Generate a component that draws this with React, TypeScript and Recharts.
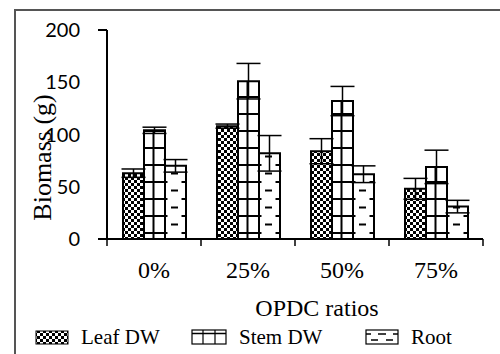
import { BarChart, Bar, XAxis, YAxis, ErrorBar, Legend } from 'recharts';

const ratios = ['0%', '25%', '50%', '75%'];
const seriesNames = ['Leaf DW', 'Stem DW', 'Root'];
const leafDW = [63, 108, 84, 48];
const leafErr = [4, 2, 12, 10];
const stemDW = [104, 151, 132, 69];
const stemErr = [3, 17, 14, 16];
const rootDW = [70, 82, 62, 31];
const rootErr = [6, 17, 8, 6];
const yTicks = [0, 50, 100, 150, 200];

const data = ratios.map((r, i) => ({
  ratio: r,
  leaf: leafDW[i],
  leafErr: leafErr[i],
  stem: stemDW[i],
  stemErr: stemErr[i],
  root: rootDW[i],
  rootErr: rootErr[i],
}));

const serif = '"Liberation Serif", "Times New Roman", serif';

// y tick: number label, plus short outward tick only at 0 and 200
const YTick = (props: any) => {
  const { x, y, payload, index, visibleTicksCount } = props;
  const edge = index === 0 || index === visibleTicksCount - 1;
  return (
    <g>
      {edge && <line x1={x - 9} x2={x} y1={y} y2={y} stroke="#000" strokeWidth={2} />}
      <text x={x - 27} y={y} dy="0.36em" textAnchor="end" fontFamily="Lato, sans-serif" fontSize={20} fill="#000">
        {payload.value}
      </text>
    </g>
  );
};

// x tick: label at category centre, tick marks at the category boundaries
const XTick = (props: any) => {
  const { x, y, payload, index, visibleTicksCount } = props;
  const half = payload.offset;
  const last = index === visibleTicksCount - 1;
  return (
    <g>
      <line x1={x - half} x2={x - half} y1={y} y2={y + 7} stroke="#000" strokeWidth={1.5} />
      {last && <line x1={x + half} x2={x + half} y1={y} y2={y + 7} stroke="#000" strokeWidth={1.5} />}
      <text x={x} y={y + 39} textAnchor="middle" fontFamily={serif} fontSize={24} fill="#000">
        {payload.value}
      </text>
    </g>
  );
};

const YLabel = ({ viewBox }: any) => {
  const cx = viewBox.x + 51;
  const cy = viewBox.y + viewBox.height / 2 + 23;
  return (
    <text x={cx} y={cy} transform={`rotate(-90 ${cx} ${cy})`} textAnchor="middle" fontFamily={serif} fontSize={26} fill="#000">
      Biomass (g)
    </text>
  );
};

const XLabel = ({ viewBox }: any) => {
  const cx = viewBox.x + viewBox.width / 2 + 22;
  const cy = viewBox.y + 77;
  return (
    <text x={cx} y={cy} textAnchor="middle" fontFamily={serif} fontSize={24} fill="#000">
      OPDC ratios
    </text>
  );
};

const swatch = (i: number) => {
  if (i === 0) {
    return (
      <svg width={34} height={15}>
        <rect x={1} y={1} width={32} height={13} fill="url(#pLeaf)" stroke="#000" strokeWidth={1} />
      </svg>
    );
  }
  if (i === 1) {
    return (
      <svg width={36} height={16}>
        <rect x={1} y={1} width={34} height={14} fill="#fff" stroke="#000" strokeWidth={1.2} />
        <line x1={1} x2={35} y1={4.5} y2={4.5} stroke="#000" strokeWidth={1.5} />
        <line x1={12} x2={12} y1={1} y2={15} stroke="#000" strokeWidth={1.2} />
        <line x1={24} x2={24} y1={1} y2={15} stroke="#000" strokeWidth={1.2} />
      </svg>
    );
  }
  return (
    <svg width={34} height={16}>
      <rect x={1} y={1} width={32} height={14} fill="#fff" stroke="#000" strokeWidth={1.2} />
      <g stroke="#000" strokeWidth={1.5}>
        <line x1={1} x2={6} y1={5} y2={5} />
        <line x1={13} x2={21} y1={5} y2={5} />
        <line x1={28} x2={33} y1={5} y2={5} />
        <line x1={6} x2={13} y1={11} y2={11} />
        <line x1={21} x2={28} y1={11} y2={11} />
      </g>
    </svg>
  );
};

const itemWidths = [156, 174, 100];

const renderLegend = () => (
  <div style={{ display: 'flex', alignItems: 'center', height: 22, paddingLeft: 35, fontFamily: serif, fontSize: 21, color: '#000' }}>
    {seriesNames.map((n, i) => (
      <div key={n} style={{ display: 'flex', alignItems: 'center', width: itemWidths[i] }}>
        {swatch(i)}
        <span style={{ marginLeft: 12, whiteSpace: 'nowrap' }}>{n}</span>
      </div>
    ))}
  </div>
);

export default function App() {
  return (
    <div style={{ position: 'absolute', left: 0, top: 0, width: 500, height: 354, background: '#fff' }}>
      <div
        style={{
          position: 'absolute',
          left: 14,
          top: 9,
          width: 486,
          height: 345,
          borderTop: '2px solid #555',
          borderLeft: '2px solid #555',
          boxSizing: 'border-box',
        }}
      />
      <BarChart
        width={500}
        height={354}
        data={data}
        margin={{ top: 30, right: 17, left: 0, bottom: 35 }}
        barGap={0}
        barSize={21}
        style={{ position: 'absolute', left: 0, top: 0 }}
      >
        <defs>
          <pattern id="pLeaf" patternUnits="userSpaceOnUse" x={122} y={0} width={6} height={6}>
            <rect width={6} height={6} fill="#fff" />
            <rect x={0} y={0} width={3} height={3} fill="#000" />
            <rect x={3} y={3} width={3} height={3} fill="#000" />
          </pattern>
          <pattern id="pStem" patternUnits="userSpaceOnUse" x={143} y={28} width={94} height={17}>
            <rect width={94} height={17} fill="#fff" />
            <line x1={0} x2={94} y1={1} y2={1} stroke="#000" strokeWidth={2} />
            <line x1={10.5} x2={10.5} y1={0} y2={17} stroke="#000" strokeWidth={2} />
          </pattern>
          <pattern id="pRoot" patternUnits="userSpaceOnUse" x={164} y={28} width={94} height={17}>
            <rect width={94} height={17} fill="#fff" />
            <line x1={0} x2={3.5} y1={1} y2={1} stroke="#000" strokeWidth={2} />
            <line x1={17.5} x2={21} y1={1} y2={1} stroke="#000" strokeWidth={2} />
            <line x1={7} x2={14} y1={9.5} y2={9.5} stroke="#000" strokeWidth={2} />
          </pattern>
        </defs>
        <XAxis
          dataKey="ratio"
          height={80}
          axisLine={{ stroke: '#000', strokeWidth: 2 }}
          tickLine={false}
          tickSize={0}
          tickMargin={0}
          tick={<XTick />}
          interval={0}
          label={<XLabel />}
        />
        <XAxis xAxisId="top" dataKey="ratio" orientation="top" height={0} tick={false} tickLine={false} axisLine={{ stroke: '#000', strokeWidth: 2 }} />
        <YAxis
          width={107}
          domain={[0, 200]}
          ticks={yTicks}
          axisLine={{ stroke: '#000', strokeWidth: 2 }}
          tickLine={false}
          tickSize={0}
          tickMargin={0}
          tick={<YTick />}
          interval={0}
          label={<YLabel />}
        />
        <YAxis yAxisId="right" orientation="right" width={0} domain={[0, 200]} tick={false} tickLine={false} axisLine={{ stroke: '#000', strokeWidth: 2 }} />
        <Legend verticalAlign="middle" align="center" layout="horizontal" wrapperStyle={{ top: 326, left: 0, width: 500, height: 22 }} content={renderLegend} />
        <Bar dataKey="leaf" name={seriesNames[0]} fill="url(#pLeaf)" stroke="#000" strokeWidth={2} isAnimationActive={false}>
          <ErrorBar dataKey="leafErr" width={12} stroke="#000" strokeWidth={1.5} direction="y" isAnimationActive={false} />
        </Bar>
        <Bar dataKey="stem" name={seriesNames[1]} fill="url(#pStem)" stroke="#000" strokeWidth={2} isAnimationActive={false}>
          <ErrorBar dataKey="stemErr" width={12} stroke="#000" strokeWidth={1.5} direction="y" isAnimationActive={false} />
        </Bar>
        <Bar dataKey="root" name={seriesNames[2]} fill="url(#pRoot)" stroke="#000" strokeWidth={2} isAnimationActive={false}>
          <ErrorBar dataKey="rootErr" width={12} stroke="#000" strokeWidth={1.5} direction="y" isAnimationActive={false} />
        </Bar>
      </BarChart>
    </div>
  );
}
